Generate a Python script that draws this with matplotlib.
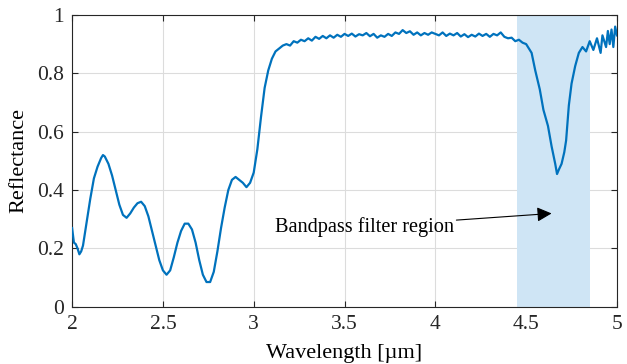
import matplotlib
matplotlib.use('Agg')
import matplotlib.pyplot as plt

# --- spectrum ---
wl = [2.00, 2.01, 2.02, 2.03, 2.04, 2.05, 2.06, 2.08, 2.10, 2.12, 2.14, 2.16, 2.17, 2.18, 2.20,
      2.22, 2.24, 2.26, 2.28, 2.30, 2.32, 2.34, 2.36, 2.38, 2.40, 2.42, 2.44, 2.46, 2.48,
      2.50, 2.52, 2.54, 2.56, 2.58, 2.60, 2.62, 2.64, 2.66, 2.68, 2.70, 2.72, 2.74, 2.76,
      2.78, 2.80, 2.82, 2.84, 2.86, 2.88, 2.90, 2.92, 2.94, 2.96, 2.98, 3.00, 3.02, 3.04,
      3.06, 3.08, 3.10, 3.12, 3.14, 3.16, 3.18, 3.20, 3.22, 3.24, 3.26, 3.28, 3.30, 3.32,
      3.34, 3.36, 3.38, 3.40, 3.42, 3.44, 3.46, 3.48, 3.50, 3.52, 3.54, 3.56, 3.58, 3.60,
      3.62, 3.64, 3.66, 3.68, 3.70, 3.72, 3.74, 3.76, 3.78, 3.80, 3.82, 3.84, 3.86, 3.88,
      3.90, 3.92, 3.94, 3.96, 3.98, 4.00, 4.02, 4.04, 4.06, 4.08, 4.10, 4.12, 4.14, 4.16,
      4.18, 4.20, 4.22, 4.24, 4.26, 4.28, 4.30, 4.32, 4.34, 4.36, 4.38, 4.40, 4.42, 4.44,
      4.46, 4.48, 4.50, 4.52, 4.53, 4.55, 4.575, 4.595, 4.62, 4.64, 4.66, 4.67, 4.68, 4.695,
      4.71, 4.72, 4.735, 4.75, 4.77, 4.79, 4.81, 4.83, 4.85, 4.87, 4.89, 4.91, 4.92, 4.94,
      4.95, 4.96, 4.97, 4.98, 4.99, 5.00]
refl = [0.27, 0.22, 0.215, 0.20, 0.18, 0.19, 0.21, 0.29, 0.37, 0.44, 0.48, 0.51, 0.52, 0.515, 0.49,
        0.45, 0.40, 0.35, 0.315, 0.305, 0.32, 0.34, 0.355, 0.36, 0.345, 0.31, 0.26, 0.21, 0.16,
        0.125, 0.11, 0.125, 0.17, 0.22, 0.26, 0.285, 0.285, 0.265, 0.22, 0.16, 0.11, 0.085, 0.085,
        0.12, 0.19, 0.27, 0.34, 0.40, 0.435, 0.445, 0.435, 0.425, 0.41, 0.425, 0.46, 0.54, 0.65,
        0.75, 0.81, 0.85, 0.875, 0.885, 0.895, 0.90, 0.895, 0.91, 0.905, 0.915, 0.91, 0.92, 0.912,
        0.925, 0.918, 0.928, 0.92, 0.93, 0.922, 0.932, 0.925, 0.935, 0.928, 0.936, 0.926, 0.934, 0.93,
        0.938, 0.927, 0.935, 0.922, 0.93, 0.925, 0.935, 0.928, 0.94, 0.935, 0.948, 0.938, 0.944, 0.932,
        0.94, 0.93, 0.938, 0.932, 0.94, 0.935, 0.93, 0.94, 0.928, 0.936, 0.93, 0.938, 0.926, 0.934,
        0.924, 0.932, 0.926, 0.936, 0.928, 0.935, 0.925, 0.935, 0.93, 0.94, 0.925, 0.92, 0.922, 0.91,
        0.915, 0.905, 0.90, 0.88, 0.87, 0.81, 0.745, 0.675, 0.62, 0.55, 0.49, 0.455, 0.47, 0.49,
        0.53, 0.57, 0.69, 0.765, 0.825, 0.87, 0.89, 0.875, 0.91, 0.88, 0.92, 0.87, 0.93, 0.89,
        0.945, 0.90, 0.95, 0.89, 0.96, 0.93]
band = (4.45, 4.85)
xticks = [2, 2.5, 3, 3.5, 4, 4.5, 5]
yticks = [0, 0.2, 0.4, 0.6, 0.8, 1]

plt.rcParams['font.family'] = ['Liberation Serif', 'DejaVu Serif']

fig, ax = plt.subplots(figsize=(6.27, 3.64), dpi=100)
fig.subplots_adjust(left=0.115, right=0.984, top=0.959, bottom=0.157)

ax.axvspan(band[0], band[1], color='#cfe5f5', lw=0, zorder=1)
ax.plot(wl, refl, color='#0072BD', lw=1.6, zorder=3)

ax.annotate('Bandpass filter region', xy=(4.64, 0.32), xytext=(3.115, 0.275),
            ha='left', va='center', fontsize=14.6,
            arrowprops=dict(arrowstyle='-|>', color='black', lw=0.8,
                            mutation_scale=22, shrinkA=0, shrinkB=0), zorder=4)

ax.set_xlim(2, 5)
ax.set_ylim(0, 1)
ax.set_xticks(xticks)
ax.set_xticklabels([f'{t:g}' for t in xticks])
ax.set_yticks(yticks)
ax.set_yticklabels([f'{t:g}' for t in yticks])
ax.grid(True, color='#dcdcdc', lw=0.8, zorder=0)
ax.set_axisbelow(True)
ax.tick_params(direction='in', top=True, right=True, labelsize=15.5, colors='#262626',
               length=4, width=0.8, pad=6)
for s in ax.spines.values():
    s.set_color('#262626')
    s.set_linewidth(0.8)
ax.set_xlabel('Wavelength [µm]', fontsize=16, labelpad=7)
ax.set_ylabel('Reflectance', fontsize=16, labelpad=6)

fig.savefig('out.png')
